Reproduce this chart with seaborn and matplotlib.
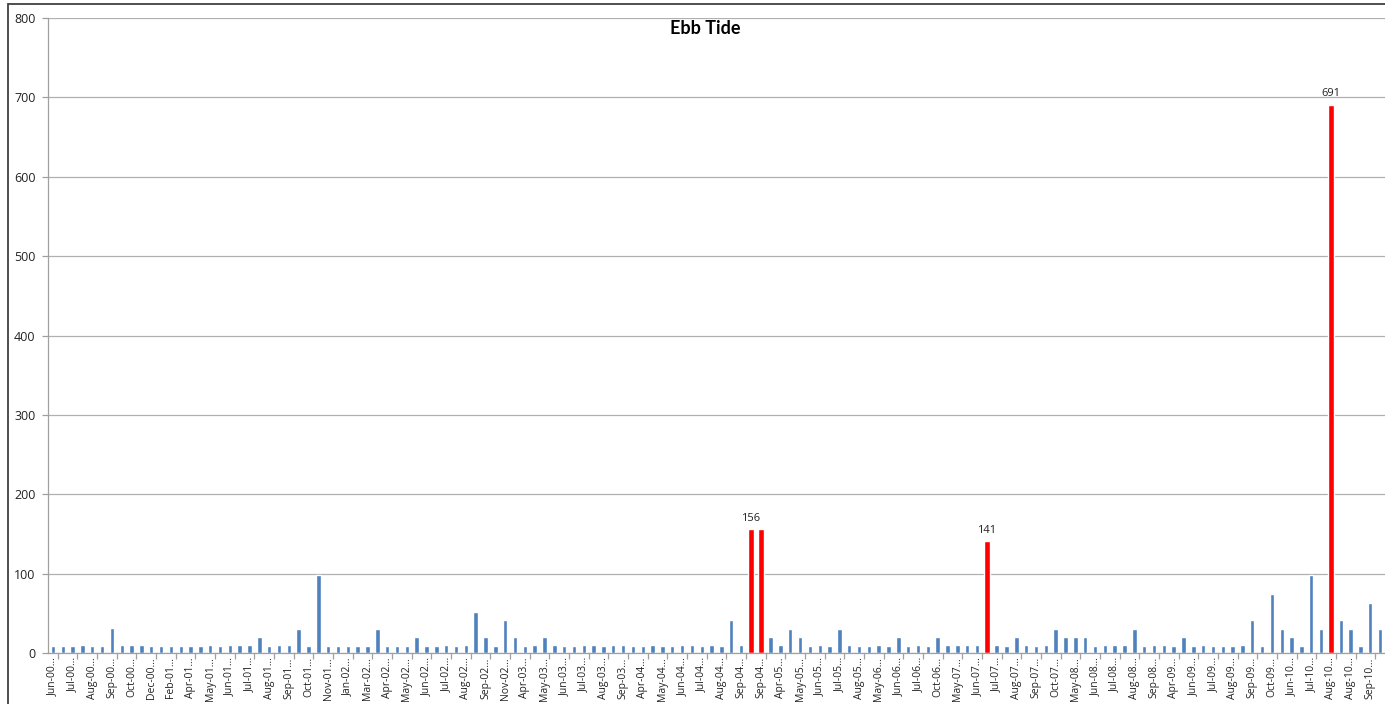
import matplotlib
matplotlib.use("Agg")
import numpy as np
import pandas as pd
import seaborn as sns
import matplotlib.pyplot as plt
from matplotlib.patches import Rectangle

values = [
    9, 9, 9, 10, 9, 9, 31, 10, 10, 10,
    9, 9, 9, 9, 9, 9, 10, 9, 10, 10,
    10, 20, 9, 10, 10, 30, 9, 98, 9, 9,
    9, 9, 9, 30, 9, 9, 9, 20, 9, 9,
    10, 9, 10, 52, 20, 9, 41, 20, 9, 10,
    20, 10, 9, 9, 10, 10, 9, 10, 10, 9,
    9, 10, 9, 9, 10, 10, 9, 10, 9, 41,
    10, 156, 156, 20, 10, 30, 20, 9, 10, 9,
    30, 10, 9, 9, 10, 9, 20, 9, 10, 9,
    20, 10, 10, 10, 10, 141, 10, 9, 20, 10,
    9, 10, 30, 20, 20, 20, 9, 10, 10, 10,
    30, 9, 10, 10, 9, 20, 9, 10, 9, 9,
    9, 10, 41, 9, 74, 30, 20, 9, 98, 30,
    691, 41, 30, 9, 63, 30,
]

tick_labels = [
    "Jun-00", "Jul-00", "Aug-00", "Sep-00", "Oct-00", "Dec-00", "Feb-01", "Apr-01",
    "May-01", "Jun-01", "Jul-01", "Aug-01", "Sep-01", "Oct-01", "Nov-01", "Jan-02",
    "Mar-02", "Apr-02", "May-02", "Jun-02", "Jul-02", "Aug-02", "Sep-02", "Nov-02",
    "Apr-03", "May-03", "Jun-03", "Jul-03", "Aug-03", "Sep-03", "Apr-04", "May-04",
    "Jun-04", "Jul-04", "Aug-04", "Sep-04", "Sep-04", "Apr-05", "May-05", "Jun-05",
    "Jul-05", "Aug-05", "May-06", "Jun-06", "Jul-06", "Oct-06", "May-07", "Jun-07",
    "Jul-07", "Aug-07", "Sep-07", "Oct-07", "May-08", "Jun-08", "Jul-08", "Aug-08",
    "Sep-08", "Apr-09", "Jun-09", "Jul-09", "Aug-09", "Sep-09", "Oct-09", "Jun-10",
    "Jul-10", "Aug-10", "Aug-10", "Sep-10",
]

labelled_peaks = [71, 95, 130]
title = "Ebb Tide"

sns.set_theme(style="white")
plt.rcParams["font.family"] = ["Open Sans", "DejaVu Sans"]

W, H = 1385, 704
fig = plt.figure(figsize=(W / 100, H / 100), dpi=100)
ax = fig.add_axes([48 / W, 1 - 653 / H, 1 - 48 / W, (653 - 18) / H])

n = len(values)
df = pd.DataFrame({
    "idx": np.arange(n),
    "value": values,
    "kind": ["peak" if v > 100 else "normal" for v in values],
})
sns.barplot(data=df, x="idx", y="value", hue="kind",
            palette={"normal": "#4F81BD", "peak": "#FF0000"},
            dodge=False, width=0.45, legend=False, ax=ax, saturation=1)

# widen red bars slightly
for p in ax.patches:
    fc = p.get_facecolor()
    if fc[0] > 0.9 and fc[1] < 0.1:
        w = p.get_width()
        extra = 0.12
        p.set_x(p.get_x() - extra / 2)
        p.set_width(w + extra)

ax.set_xlim(-0.5, n - 0.5)
ax.set_ylim(0, 800)
ax.set_yticks(range(0, 801, 100))
ax.yaxis.grid(True, color="#B0B0B0", linewidth=0.9)
ax.set_axisbelow(True)
ax.set_xlabel("")
ax.set_ylabel("")

ax.set_xticks(np.arange(0, n, 2))
ax.set_xticklabels([t + "\u2026" for t in tick_labels], rotation=90, fontsize=7.5,
                   color="#222222")
ax.set_xticks(np.arange(0.5, n, 2), minor=True)
ax.tick_params(axis="x", which="major", length=0, pad=3)
ax.tick_params(axis="x", which="minor", length=4, color="#A0A0A0", width=0.9,
               bottom=True)
ax.tick_params(axis="y", length=4, color="#A0A0A0", width=0.9, left=True,
               labelsize=9, pad=5, labelcolor="#222222")

for s in ["top", "right"]:
    ax.spines[s].set_visible(False)
for s in ["left", "bottom"]:
    ax.spines[s].set_color("#A0A0A0")
    ax.spines[s].set_linewidth(0.9)

for i in labelled_peaks:
    ax.text(i, values[i] + 7, str(values[i]), ha="center", va="bottom",
            fontsize=8, color="#222222")

fig.text(705 / W, 1 - 29 / H, title, ha="center", va="center",
         fontsize=13, fontweight="bold", color="black",
         family=["Lato", "DejaVu Sans"])

fig.add_artist(Rectangle((8 / W, -0.1), 1.2, (1 - 4 / H) + 0.1,
                         transform=fig.transFigure, fill=False,
                         edgecolor="#404040", linewidth=1.3))

fig.savefig("out.png", dpi=100)
